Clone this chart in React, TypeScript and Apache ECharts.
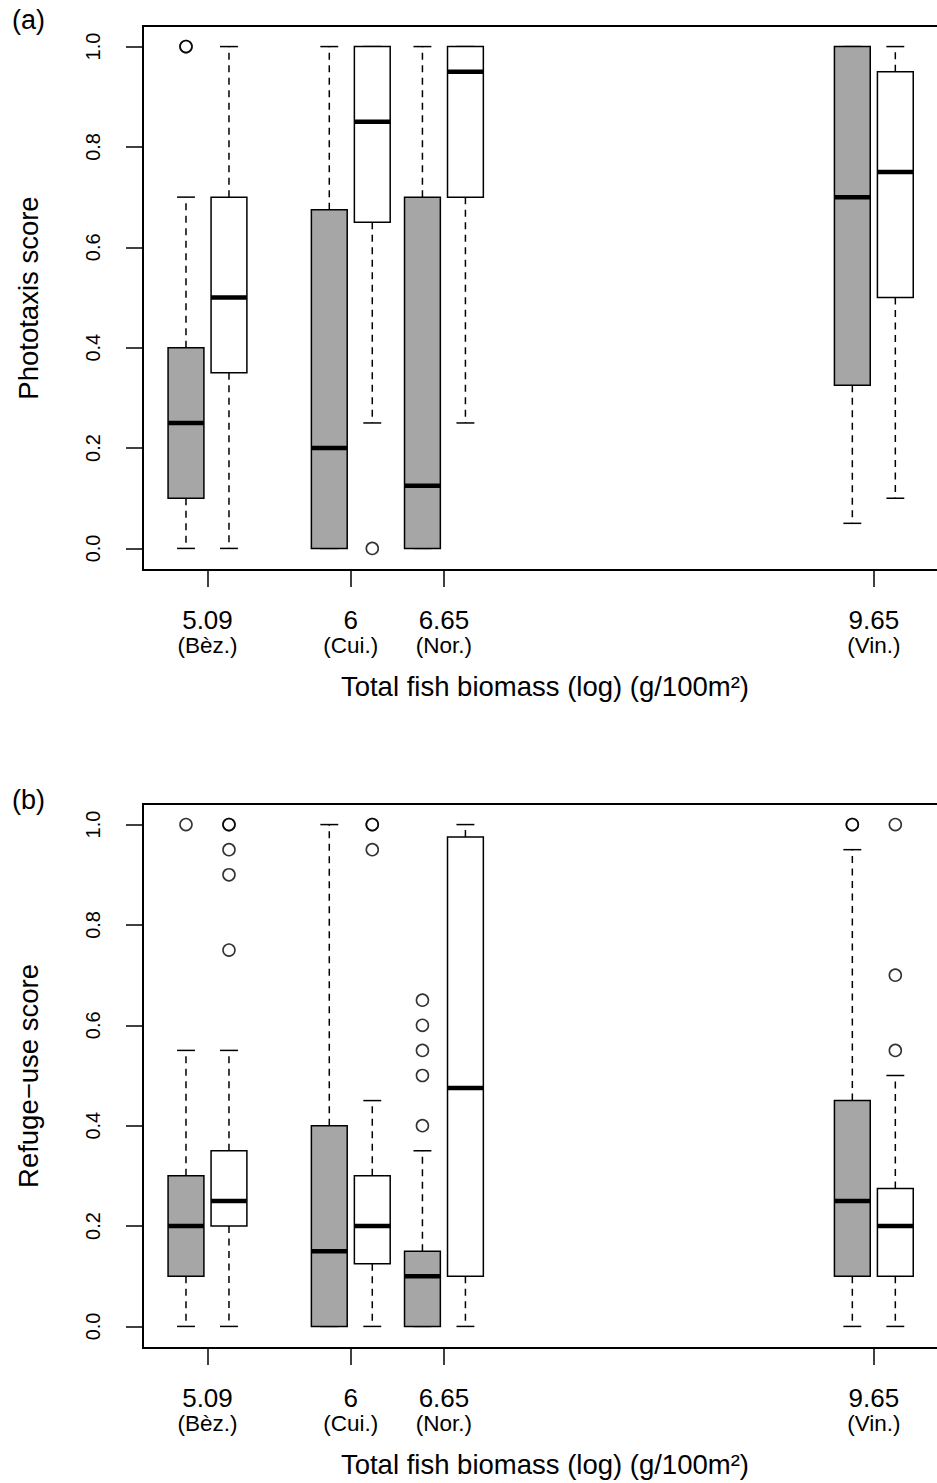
import React, { useEffect, useRef } from 'react';
import * as echarts from 'echarts';

// x positions of the sites (log biomass axis) and their labels
const groupPositions = [5, 6, 6.65, 9.65];
const tickLabels = ['5.09', '6', '6.65', '9.65'];
const siteLabels = ['(Bèz.)', '(Cui.)', '(Nor.)', '(Vin.)'];
const yTicks = [0, 0.2, 0.4, 0.6, 0.8, 1.0];

// Box statistics: [lower whisker, Q1, median, Q3, upper whisker]
const phototaxisGrey = [
  [0, 0.1, 0.25, 0.4, 0.7],
  [0, 0, 0.2, 0.675, 1.0],
  [0, 0, 0.125, 0.7, 1.0],
  [0.05, 0.325, 0.7, 1.0, 1.0],
];
const phototaxisWhite = [
  [0, 0.35, 0.5, 0.7, 1.0],
  [0.25, 0.65, 0.85, 1.0, 1.0],
  [0.25, 0.7, 0.95, 1.0, 1.0],
  [0.1, 0.5, 0.75, 0.95, 1.0],
];
const phototaxisGreyOutliers = [[1.0, 1.0], [], [], []];
const phototaxisWhiteOutliers = [[], [0], [], []];

const refugeGrey = [
  [0, 0.1, 0.2, 0.3, 0.55],
  [0, 0, 0.15, 0.4, 1.0],
  [0, 0, 0.1, 0.15, 0.35],
  [0, 0.1, 0.25, 0.45, 0.95],
];
const refugeWhite = [
  [0, 0.2, 0.25, 0.35, 0.55],
  [0, 0.125, 0.2, 0.3, 0.45],
  [0, 0.1, 0.475, 0.975, 1.0],
  [0, 0.1, 0.2, 0.275, 0.5],
];
const refugeGreyOutliers = [[1.0], [], [0.4, 0.5, 0.55, 0.6, 0.65], [1.0, 1.0]];
const refugeWhiteOutliers = [[0.75, 0.9, 0.95, 1.0, 1.0], [0.95, 1.0, 1.0], [], [0.55, 0.7, 1.0]];

const OFFSET = 0.15;
const BOX_WIDTH = 0.25;
const X_MIN = 4.55;
const X_MAX = 10.16;
const Y_MIN = -0.043;
const Y_MAX = 1.041;
const FONT = '"Liberation Sans", Arial, Helvetica, sans-serif';
const GREY = '#a6a6a6';

function makeRender(fill: string) {
  return (params: any, api: any) => {
    const x = api.value(0);
    const low = api.value(1);
    const q1 = api.value(2);
    const med = api.value(3);
    const q3 = api.value(4);
    const high = api.value(5);
    const w = api.size([BOX_WIDTH, 0])[0];
    const cx = api.coord([x, 0])[0];
    const y = (v: number) => api.coord([x, v])[1];
    const half = w / 2;
    const cap = w / 4;
    const children: any[] = [];
    const dash = { stroke: '#000', lineWidth: 1.5, lineDash: [7, 5.5] };
    const solid = { stroke: '#000', lineWidth: 1.5 };
    if (high > q3) children.push({ type: 'line', shape: { x1: cx, y1: y(q3), x2: cx, y2: y(high) }, style: dash });
    if (low < q1) children.push({ type: 'line', shape: { x1: cx, y1: y(q1), x2: cx, y2: y(low) }, style: dash });
    children.push({ type: 'line', shape: { x1: cx - cap, y1: y(high), x2: cx + cap, y2: y(high) }, style: solid });
    children.push({ type: 'line', shape: { x1: cx - cap, y1: y(low), x2: cx + cap, y2: y(low) }, style: solid });
    children.push({
      type: 'rect',
      shape: { x: cx - half, y: y(q3), width: w, height: y(q1) - y(q3) },
      style: { fill, stroke: '#000', lineWidth: 1.5 },
    });
    children.push({ type: 'line', shape: { x1: cx - half, y1: y(med), x2: cx + half, y2: y(med) }, style: { stroke: '#000', lineWidth: 4.5 } });
    return { type: 'group', children };
  };
}

function boxData(stats: number[][], side: number) {
  return stats.map((s, i) => [groupPositions[i] + side * OFFSET, ...s]);
}
function outlierData(out: number[][], side: number) {
  const res: number[][] = [];
  out.forEach((vals, i) => vals.forEach((v) => res.push([groupPositions[i] + side * OFFSET, v])));
  return res;
}

function xAxisFor(gridIndex: number) {
  return {
    type: 'value',
    gridIndex,
    min: X_MIN,
    max: X_MAX,
    name: 'Total fish biomass (log) (g/100m²)',
    nameLocation: 'middle',
    nameGap: 102,
    nameMoveOverlap: false,
    nameTextStyle: { fontSize: 27.5, fontFamily: FONT, color: '#000' },
    axisLine: { show: false, onZero: false },
    splitLine: { show: false },
    axisTick: { show: true, customValues: groupPositions, length: 17, lineStyle: { color: '#000', width: 1.5 } },
    axisLabel: {
      customValues: groupPositions,
      margin: 37,
      fontFamily: FONT,
      color: '#000',
      formatter: (v: number) => {
        const i = groupPositions.findIndex((p) => Math.abs(p - v) < 1e-6);
        return `{n|${tickLabels[i]}}\n{s|${siteLabels[i]}}`;
      },
      rich: {
        n: { fontSize: 26, lineHeight: 26, fontFamily: FONT, color: '#000' },
        s: { fontSize: 22.5, lineHeight: 24, fontFamily: FONT, color: '#000' },
      },
    },
  };
}

function yAxisFor(gridIndex: number, name: string) {
  return {
    type: 'value',
    gridIndex,
    min: Y_MIN,
    max: Y_MAX,
    name,
    nameLocation: 'middle',
    nameGap: 101,
    nameMoveOverlap: false,
    nameTextStyle: { fontSize: 27.5, fontFamily: FONT, color: '#000' },
    axisLine: { show: false, onZero: false },
    splitLine: { show: false },
    axisTick: { show: true, customValues: yTicks, length: 17, lineStyle: { color: '#000', width: 1.5 } },
    axisLabel: {
      customValues: yTicks,
      rotate: 90,
      margin: 40,
      fontSize: 20,
      fontFamily: FONT,
      color: '#000',
      formatter: (v: number) => v.toFixed(1),
    },
  };
}

function boxSeries(axisIndex: number, stats: number[][], side: number, fill: string) {
  return {
    type: 'custom',
    xAxisIndex: axisIndex,
    yAxisIndex: axisIndex,
    renderItem: makeRender(fill),
    encode: { x: 0, y: [1, 2, 3, 4, 5] },
    data: boxData(stats, side),
    clip: false,
  };
}
function outlierSeries(axisIndex: number, out: number[][], side: number) {
  return {
    type: 'scatter',
    xAxisIndex: axisIndex,
    yAxisIndex: axisIndex,
    symbol: 'circle',
    symbolSize: 12,
    itemStyle: { color: 'rgba(0,0,0,0)', borderColor: '#000', borderWidth: 1.6 },
    data: outlierData(out, side),
  };
}

export default function App() {
  const ref = useRef<HTMLDivElement>(null);
  useEffect(() => {
    if (!ref.current) return;
    const chart = echarts.init(ref.current, undefined, { renderer: 'svg' });
    const grid = (top: number) => ({
      left: 143,
      top,
      width: (X_MAX - X_MIN) * 143.3,
      height: 544,
      outerBoundsMode: 'none',
      containLabel: false,
      show: true,
      borderColor: '#000',
      borderWidth: 2,
      backgroundColor: 'rgba(0,0,0,0)',
    });
    chart.setOption({
      animation: false,
      backgroundColor: '#fff',
      grid: [grid(26), grid(804)],
      xAxis: [xAxisFor(0), xAxisFor(1)],
      yAxis: [yAxisFor(0, 'Phototaxis score'), yAxisFor(1, 'Refuge\u2212use score')],
      graphic: [
        { type: 'text', left: 12, top: 6, style: { text: '(a)', font: `27px ${FONT}`, fill: '#000' } },
        { type: 'text', left: 12, top: 786, style: { text: '(b)', font: `27px ${FONT}`, fill: '#000' } },
      ],
      series: [
        boxSeries(0, phototaxisGrey, -1, GREY),
        boxSeries(0, phototaxisWhite, 1, '#fff'),
        outlierSeries(0, phototaxisGreyOutliers, -1),
        outlierSeries(0, phototaxisWhiteOutliers, 1),
        boxSeries(1, refugeGrey, -1, GREY),
        boxSeries(1, refugeWhite, 1, '#fff'),
        outlierSeries(1, refugeGreyOutliers, -1),
        outlierSeries(1, refugeWhiteOutliers, 1),
      ],
    });
    return () => chart.dispose();
  }, []);
  return (
    <div
      ref={ref}
      style={{ position: 'absolute', left: 0, top: 0, width: 937, height: 1483, overflow: 'hidden' }}
    />
  );
}
